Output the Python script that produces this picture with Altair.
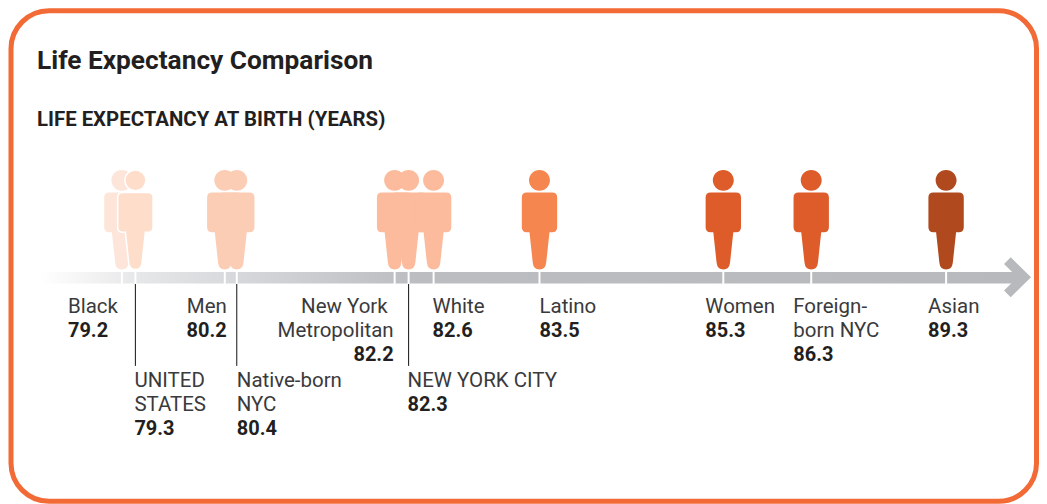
import altair as alt
import pandas as pd

TITLE = "Life Expectancy Comparison"
SUBTITLE = "LIFE EXPECTANCY AT BIRTH (YEARS)"

NAMES = ["Black", "United States", "Men", "Native-born NYC", "New York Metropolitan",
         "New York City", "White", "Latino", "Women", "Foreign-born NYC", "Asian"]
VALUES = [79.2, 79.3, 80.2, 80.4, 82.2, 82.3, 82.6, 83.5, 85.3, 86.3, 89.3]
LINES = [["Black"], ["UNITED", "STATES"], ["Men"], ["Native-born", "NYC"],
         ["New York", "Metropolitan"], ["NEW YORK CITY"], ["White"], ["Latino"],
         ["Women"], ["Foreign-", "born NYC"], ["Asian"]]

# styling / layout (picture pixels, mapped to plot pixels by the offsets below)
COLORS = ["#FDE5DA", "#FEDDCB", "#FCCDB5", "#FCCDB5", "#FBBB9C", "#FBBB9C", "#FBBB9C",
          "#F68650", "#DE5C2A", "#DE5C2A", "#B04A1E"]
OUTLINE = [0, 1.5, 0, 0, 0, 0, 0, 0, 0, 0, 0]
X_PAGE = [122, 135.5, 225, 237, 395, 409, 434, 540, 724, 812, 947]
ALIGN = ["left", "left", "right", "left", "right", "left", "left", "left", "left", "left", "left"]
DX = [-54, -1, 2, 0, -1, -1, -1, 0, -18, -18, -18]
TIER = [0, 1, 0, 1, 0, 1, 0, 0, 0, 0, 0]
LEADER = [False, True, False, True, False, True, False, False, False, False, False]
LINE_DX = {"New York": -6}
MX = 9
MY = 10
FONT = "Roboto"
INK = "#231F20"
TXT = "#3A3A3C"
BASE = [313, 387]
LH = 24

xscale = alt.Scale(domain=VALUES, range=[p - MX for p in X_PAGE], zero=False, nice=False)
X = alt.X("value:Q", scale=xscale, axis=None)

df = pd.DataFrame({"name": NAMES, "value": VALUES, "outline": OUTLINE})


def px(v):
    return alt.value(v - MX)


def py(v):
    return alt.value(v - MY)


def text_layer(s, x, y, size, weight, color, align="left", dx=0):
    return alt.Chart(pd.DataFrame({"t": [s]})).mark_text(
        align=align, baseline="alphabetic", font=FONT, fontSize=size,
        fontWeight=weight, color=color
    ).encode(text="t:N", x=px(x + dx), y=py(y))


deco = alt.Chart(pd.DataFrame({"a": [0]}))

frame = deco.mark_rect(fill="#FFFFFF", fillOpacity=0, stroke="#F26A36", strokeWidth=5, cornerRadius=38).encode(
    x=alt.value(2), x2=alt.value(1028.5), y=alt.value(0.5), y2=py(501.5))

shaft = deco.mark_rect(color=alt.Gradient(
    gradient="linear", x1=0, x2=1, y1=0, y2=0,
    stops=[alt.GradientStop(offset=0, color="#FFFFFF"),
           alt.GradientStop(offset=0.10, color="#E6E7E8"),
           alt.GradientStop(offset=0.20, color="#D7D8DB"),
           alt.GradientStop(offset=0.38, color="#BCBDC0"),
           alt.GradientStop(offset=1, color="#B8B9BC")])).encode(
    x=px(40), x2=px(1022), y=py(272), y2=py(283.5))

CHEVRON = "M-0.34,-1 L0.675,0 L-0.34,1 L-0.675,0.66 L0,0 L-0.675,-0.66 Z"
head = deco.mark_point(shape=CHEVRON, filled=True, size=1600, fill="#B8B9BC", stroke=None, opacity=1).encode(
    x=px(1018.5), y=py(277.3))

ticks = alt.Chart(df).mark_rule(color="#FFFFFF", strokeWidth=2).encode(
    x=X, y=py(270), y2=py(285))

leaders = alt.Chart(df[LEADER]).mark_rule(color="#111111", strokeWidth=1).encode(
    x=X, y=py(284), y2=py(366))

PERSON = ("M-0.21,-0.794 A0.21,0.21 0 1 1 0.21,-0.794 A0.21,0.21 0 1 1 -0.21,-0.794 Z "
          "M-0.254,-0.55 L0.254,-0.55 Q0.354,-0.55 0.354,-0.45 L0.354,0.146 Q0.354,0.246 0.254,0.246 "
          "L0.2,0.246 L0.135,0.85 Q0.12,0.99 0,0.99 Q-0.12,0.99 -0.135,0.85 L-0.2,0.246 L-0.254,0.246 "
          "Q-0.354,0.246 -0.354,0.146 L-0.354,-0.45 Q-0.354,-0.55 -0.254,-0.55 Z")

people = alt.Chart(df).mark_point(shape=PERSON, filled=True, size=10000, stroke="#FFFFFF", opacity=1).encode(
    x=X, y=py(220),
    fill=alt.Color("name:N", scale=alt.Scale(domain=NAMES, range=COLORS), legend=None),
    strokeWidth=alt.StrokeWidth("outline:Q", scale=None),
    order=alt.Order("value:Q"),
)

layers = [frame, shaft, head, ticks, leaders, people,
          text_layer(TITLE, 37, 68.5, 26.3, 700, INK),
          text_layer(SUBTITLE, 37, 126, 20.4, 700, INK)]

for i, lines in enumerate(LINES):
    y = BASE[TIER[i]]
    x0 = X_PAGE[i]
    for ln in lines:
        layers.append(text_layer(ln, x0, y, 20.5, 400, TXT, ALIGN[i], DX[i] + LINE_DX.get(ln, 0)))
        y += LH
    layers.append(text_layer(f"{VALUES[i]:.1f}", x0, y, 20, 700, INK, ALIGN[i], DX[i]))

chart = alt.layer(*layers).properties(width=1031, height=496, padding=0, background="#FFFFFF").configure_view(stroke=None)
chart.save("out.html", embed_options={"renderer": "svg", "actions": False})
